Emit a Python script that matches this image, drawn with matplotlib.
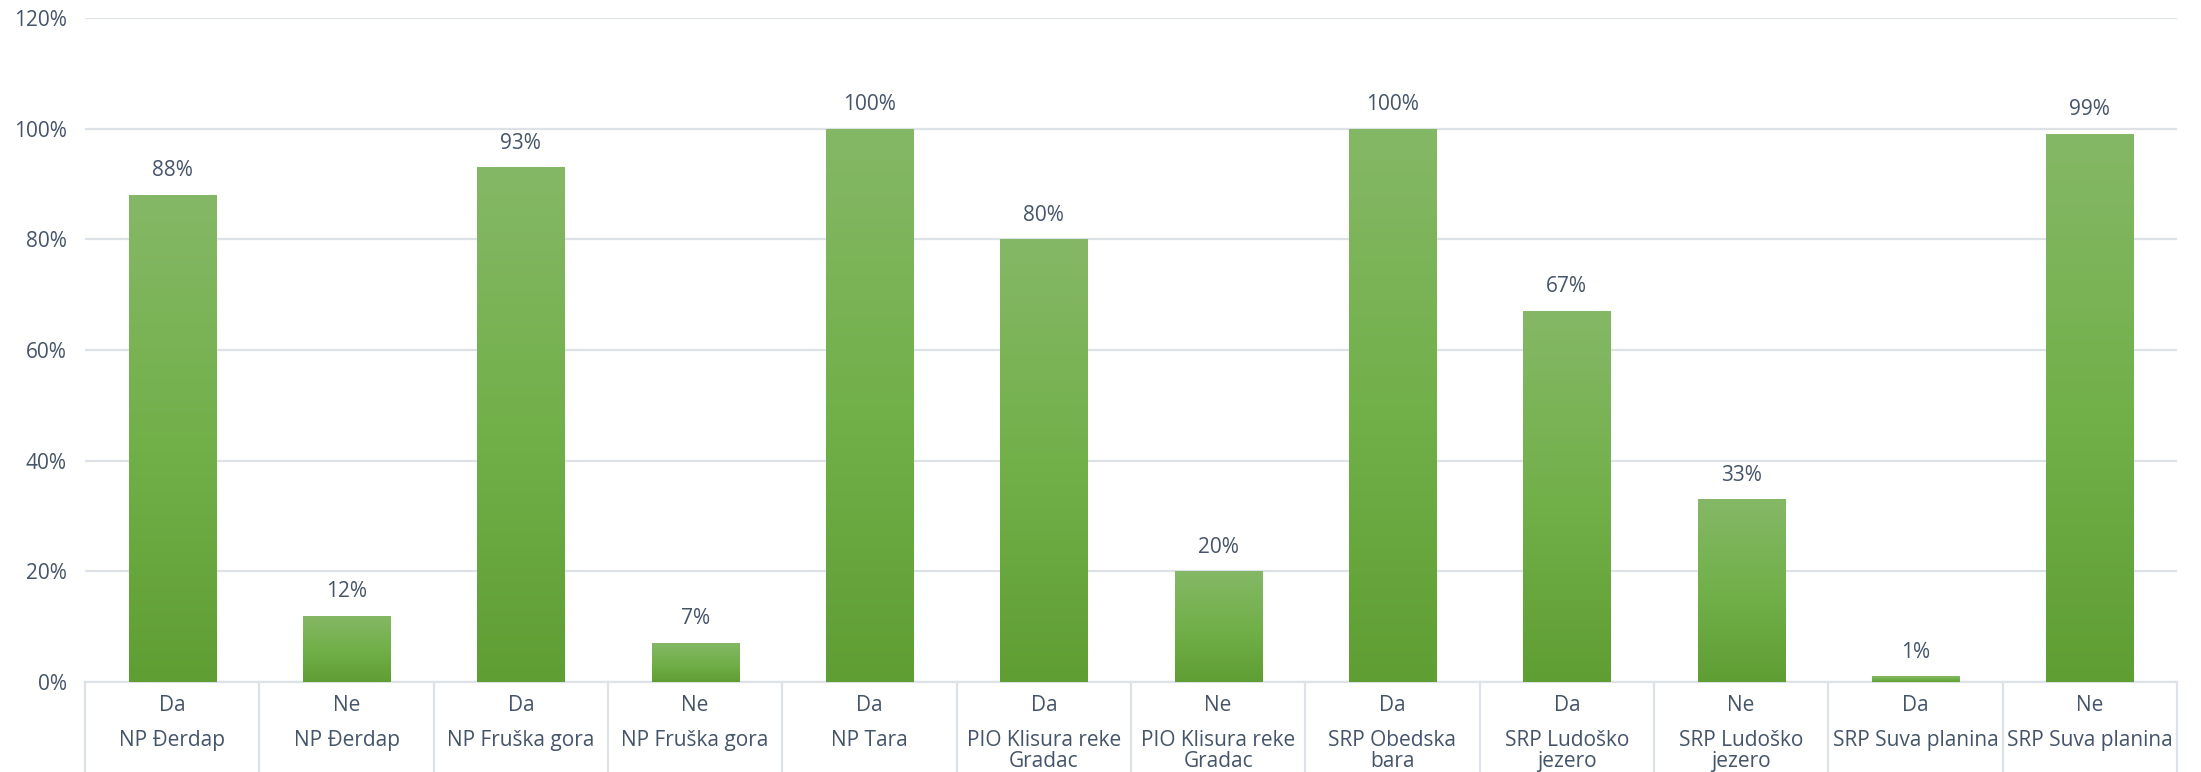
import matplotlib
matplotlib.use("Agg")
import matplotlib.pyplot as plt
import numpy as np
from matplotlib.colors import LinearSegmentedColormap
from matplotlib.ticker import FuncFormatter

# data
answers = ["Da", "Ne", "Da", "Ne", "Da", "Da", "Ne", "Da", "Da", "Ne", "Da", "Ne"]
parks = ["NP Đerdap", "NP Đerdap", "NP Fruška gora", "NP Fruška gora", "NP Tara",
         "PIO Klisura reke\nGradac", "PIO Klisura reke\nGradac", "SRP Obedska\nbara",
         "SRP Ludoško\njezero", "SRP Ludoško\njezero", "SRP Suva planina", "SRP Suva planina"]
values = [88, 12, 93, 7, 100, 80, 20, 100, 67, 33, 1, 99]

text_col = "#44546A"
grid_col = "#DDE1E8"
plt.rcParams['font.family'] = ['Open Sans', 'DejaVu Sans']

fig = plt.figure(figsize=(22.01, 7.72), dpi=100)
ax = fig.add_axes([85 / 2201, 90 / 772, (2177 - 85) / 2201, (754 - 90) / 772])

x = np.arange(len(values))
bars = ax.bar(x, values, width=0.5, color="none", zorder=3)

# vertical gradient inside every bar
cmap = LinearSegmentedColormap.from_list("g", ["#5F9E33", "#72B04A", "#85B866"])
grad = np.linspace(0, 1, 256).reshape(-1, 1)
for b in bars:
    x0, w, h = b.get_x(), b.get_width(), b.get_height()
    im = ax.imshow(grad, cmap=cmap, aspect="auto", origin="lower",
                   extent=[x0, x0 + w, 0, h], zorder=3)
    im.set_clip_path(b)

for xi, v in zip(x, values):
    ax.annotate(f"{v}%", (xi, v), xytext=(0, 17.5), textcoords="offset points",
                ha="center", va="center", fontsize=15, color=text_col)

ax.set_xlim(-0.5, len(values) - 0.5)
ax.set_ylim(0, 120)
ax.set_yticks(range(0, 121, 20))
ax.yaxis.set_major_formatter(FuncFormatter(lambda v, p: f"{v:.0f}%"))
ax.grid(axis="y", color=grid_col, linewidth=1.6, zorder=0)
ax.set_axisbelow(True)

# two-level category labels: answer on top, park name (maybe wrapped) below
ax.set_xticks(x)
ax.set_xticklabels([])
trans = ax.get_xaxis_transform()
for xi, a, p in zip(x, answers, parks):
    ax.annotate(a, (xi, 0), xycoords=trans, xytext=(0, -20.7),
                textcoords="offset points", ha="center", va="baseline",
                fontsize=15, color=text_col, annotation_clip=False)
    for k, line in enumerate(p.split("\n")):
        ax.annotate(line, (xi, 0), xycoords=trans, xytext=(0, -45.9 - 15.4 * k),
                    textcoords="offset points", ha="center", va="baseline",
                    fontsize=15, color=text_col, annotation_clip=False)
ax.tick_params(axis="x", length=0)
ax.tick_params(axis="y", length=0, pad=13, labelsize=15, labelcolor=text_col)

for s in ["top", "right", "left"]:
    ax.spines[s].set_visible(False)
ax.spines["bottom"].set_color(grid_col)
ax.spines["bottom"].set_linewidth(1.6)

# category separators below the axis
for xb in np.arange(-0.5, len(values), 1.0):
    ax.plot([xb, xb], [0, -0.14], transform=trans, color=grid_col,
            linewidth=1.6, clip_on=False)

fig.savefig("out.png", dpi=100)
